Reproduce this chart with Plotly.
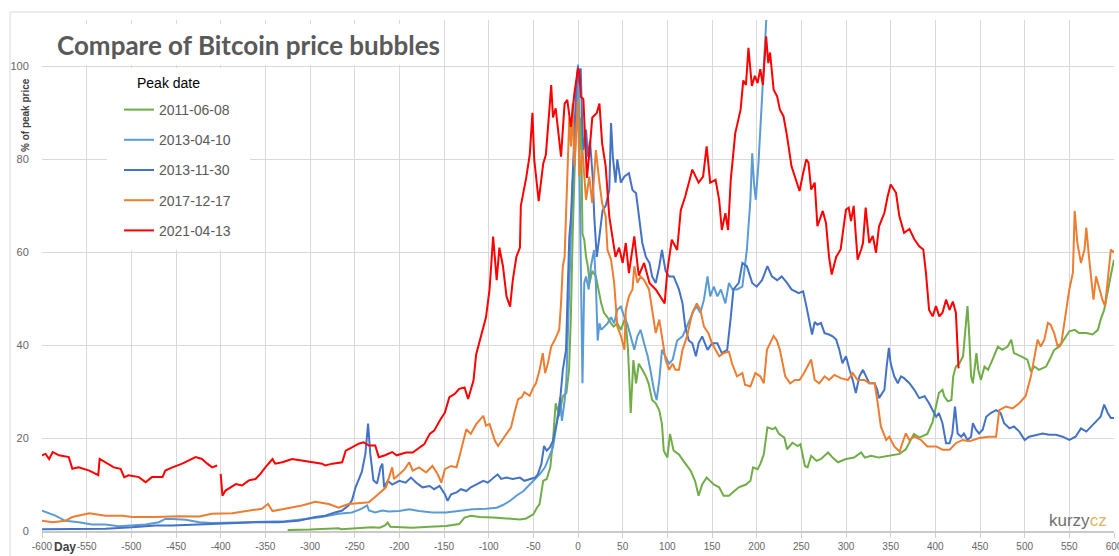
import plotly.graph_objects as go

# ---------------- data ----------------
series_names = ["2011-06-08", "2013-04-10", "2013-11-30", "2017-12-17", "2021-04-13"]
series_colors = ["#70ad47", "#5b9bd5", "#4472c4", "#ed7d31", "#ff0000"]

green_day = [-325, -300, -268, -265, -231, -222, -216, -213, -210, -200, -185, -166, -148, -133, -127, -120,
             -110, -95, -80, -65, -58, -50, -46, -43, -39, -35, -31, -28, -25, -21, -17, -13, -10, -8, -6,
             -4, -2, 0, 1.5, 2.6, 3.3, 5, 7, 9, 11, 13, 16, 20, 24, 26, 29, 33, 37, 40, 44, 48, 53, 56, 59,
             62, 65, 68, 72, 76, 79, 83, 87, 91, 94, 96, 100, 103, 107, 113, 118, 126, 131, 135, 139, 144,
             152, 158, 163, 169, 175, 180, 188, 193, 196, 201, 204, 208, 212, 218, 221, 225, 231, 234, 240,
             246, 249, 252, 254, 257, 261, 267, 272, 280, 285, 291, 300, 309, 317, 321, 328, 337, 349, 360,
             367, 372, 376, 382, 391, 397, 401, 404, 408, 410, 414, 418, 420, 423, 427, 431, 433, 436, 438,
             440, 442, 446, 448, 451, 455, 459, 464, 470, 475, 481, 485, 488, 496, 503, 507, 511, 516, 524,
             528, 533, 539, 544, 550, 556, 561, 569, 576, 582, 585, 589, 593, 597, 600]
green_val = [0.2, 0.3, 0.6, 0.4, 0.8, 0.7, 1.2, 1.8, 0.9, 0.8, 0.7, 0.9, 1.1, 1.5, 2.9, 3.3,
             3.0, 2.9, 2.7, 2.5, 2.7, 3.6, 5.0, 5.8, 10.8, 11.2, 13.7, 19.5, 27.5, 24.7, 29, 29.7, 34.7, 46, 63.4,
             78.5, 89, 95, 90.7, 82, 89, 64, 62.7, 59, 57, 53.4, 56, 54.8, 50.5, 49, 47, 46, 44.7, 44, 44.7, 43.3, 46, 39, 25.4,
             36.8, 31.8, 36, 34.7, 33.3, 31.8, 28.2, 27.5, 26, 23, 17.3, 15.8, 20.9, 17.3, 16.5, 15.1, 13, 10.8, 7.6, 10, 11.5,
             10, 9.4, 7.6, 7.6, 8.6, 9.4, 10, 10.8, 13.7, 13.3, 14.4, 16.5, 22.3, 21.9, 22.3, 20.9, 20.1, 17.6, 19,
             18.3, 18.7, 15.8, 14, 13.7, 16.2, 15.1, 15.5, 16.9, 15.8, 14.8, 15.5, 15.8, 16.9, 15.8, 16.2, 15.8, 16.2, 16.6,
             17.6, 19.4, 20.9, 20.1, 20.9, 23.5, 26.8, 29.7, 30.4, 29, 27.9, 28.2, 33.3, 35.4, 36.1, 37.6, 41.9, 48.4, 41.9,
             33.3, 31.8, 38.3, 34.7, 32.5, 35.4, 34.7, 36.9, 39.7, 39, 39.7, 41.2, 38.3, 37.6, 36.9, 34.3, 35.4, 34.7, 35.4,
             36.9, 39, 39.7, 41.2, 43, 43.3, 42.6, 42.6, 42.3, 43.3, 45.5, 47.6, 52, 55.6, 58.4]

lblue_day = [-600, -585, -574, -559, -544, -529, -514, -499, -484, -469, -462, -454, -439, -424, -410, -395,
             -372, -350, -328, -305, -287, -268, -253, -242, -236, -234, -227, -219, -212, -200, -189, -178,
             -163, -148, -133, -118, -103, -91, -84, -76, -69, -61, -54, -48, -43, -37, -33, -28, -24, -20,
             -18, -15, -13, -11.5, -9.7, -7.8, -6, -4, -2, 0, 1.5, 3.3, 5, 7, 9, 12, 14.5, 18, 20, 22, 24,
             26, 29, 33, 37, 40.5, 44, 48, 52, 55, 59, 63, 66.5, 70, 74, 78, 81, 85, 88, 91, 94, 98, 102,
             106, 111, 117, 122, 126, 130, 133, 137, 141, 145, 148, 152, 156, 160, 165, 169, 173, 178, 184,
             189, 193, 195, 197, 199, 202, 206, 208, 211, 213]
lblue_val = [4.4, 3.3, 2.2, 1.9, 1.4, 1.4, 1.0, 1.2, 1.4, 1.9, 2.6, 2.6, 2.4, 1.9, 1.7, 1.8,
             1.9, 1.9, 2.1, 2.6, 3.0, 3.7, 4.0, 4.8, 5.5, 4.4, 4.0, 4.4, 4.2, 4.3, 4.7, 4.3,
             4.0, 4.0, 4.3, 4.7, 4.8, 5.0, 5.6, 6.5, 7.6, 8.6, 10, 11.2, 12.2, 13.7, 15.8, 18, 23, 28.8,
             23.7, 28, 32.4, 42.6, 53.4, 67.7, 75, 82, 89, 100.4, 82, 60.5, 31.8, 53.4, 54.8, 52, 57, 60.5, 53.4, 41, 44.7,
             43.3, 44, 44.7, 46, 44.7, 47.6, 48.3, 46, 44.7, 41.9, 39, 41.9, 43.3, 40.4, 37.6, 34.7, 30.4, 28.2, 32.5, 39, 37.6, 36,
             36.9, 41, 41.9, 44, 46, 47.6, 48.3, 47, 49.8, 54.8, 50.5, 52.6, 50.5, 52, 49, 53.4, 52, 52, 52.6,
             60.5, 71.3, 81.3, 74.9, 71.3, 79, 92.8, 101.4, 110, 118]

blue_day = [-600, -566, -529, -499, -473, -454, -428, -402, -380, -357, -335, -313, -294, -283, -272, -264,
            -257, -253, -249, -245.5, -242, -238, -235, -232.5, -229, -225, -221, -219, -217, -213, -208, -200,
            -193, -187, -181, -174, -166, -161, -155, -149, -146, -142, -136, -131, -125, -120, -114, -106,
            -101, -95, -90, -86, -80, -73, -65, -60, -54, -48, -45, -41, -38, -35, -31.5, -28, -24, -21, -17,
            -13.4, -11.5, -9.7, -7.8, -6, -4, -2.2, 0, 1.5, 3, 4.5, 6, 9, 11, 13.4, 16.4, 18.2, 21, 24, 27.5,
            31, 35, 37, 39, 42, 44, 48, 52, 57, 61, 65, 68, 72, 76, 80, 83, 87, 91, 94, 98, 102, 107, 113,
            117, 120, 124, 128, 132, 135, 139, 145, 150, 156, 161, 167, 171, 174, 180, 184, 189, 195, 200,
            206, 212, 217, 223, 228, 234, 239, 247, 252, 255, 259, 262, 265, 268, 272, 276, 281, 285, 289,
            292.5, 296, 300, 304, 307.5, 311, 315, 319, 322, 326, 332, 335, 337, 343, 345.5, 348, 350, 354,
            358, 361.5, 365, 371, 376.5, 382, 388, 393, 397, 401, 404, 408, 412, 416, 419, 422, 425, 429,
            432, 436, 440, 442, 445.5, 449, 453, 457, 462, 468, 473, 477, 483, 488, 494, 500, 505, 513, 520,
            527.5, 535, 542.5, 550, 557, 563, 569, 574, 580, 585, 589, 593, 596.5, 600]
blue_val = [0.4, 0.4, 0.5, 0.8, 1.2, 1.2, 1.4, 1.5, 1.7, 1.9, 1.9, 2.2, 3.0, 3.3, 4.0, 4.4,
            5.5, 6.6, 9.4, 10.9, 12.7, 16.6, 23.1, 16.6, 10.9, 10.2, 13.7, 14.5, 9.4, 10.8, 10, 10.8,
            10.4, 11.5, 10.4, 9.4, 9.7, 9.0, 9.7, 7.9, 6.5, 7.9, 8.3, 9.0, 8.6, 9.4, 10, 10.8,
            10.4, 11.5, 12.2, 11.2, 11.5, 11.2, 11.5, 10.8, 11.2, 11.5, 12.2, 14.4, 18.3, 17.3, 18, 19.4, 23, 26, 34.7,
            39, 52, 63.4, 67.7, 75, 85.6, 95, 100, 96.4, 99.6, 89, 82, 86.4, 80.6, 84, 76.3, 67.7, 59, 63.4, 69,
            70, 73.4, 87.8, 80.6, 75, 80, 75, 76.3, 77, 73.4, 72.7, 67.7, 62, 59, 57.7, 54.8, 53.4, 57, 60.5, 56, 54.8, 54.8, 52,
            49, 44, 41, 40.4, 37.6, 40.4, 41.9, 39, 40.4, 40.4, 38.3, 39, 46, 52, 53.4, 57.7, 57, 53.4, 52.6,
            54, 57, 54.8, 54, 54.8, 53.4, 52, 51.2, 51.6, 49, 44.8, 42.3, 45, 44.4, 44.8, 42.6, 42.3, 41.9, 41.2,
            39, 36.1, 37.6, 34.7, 32.5, 29.7, 33.3, 34.7, 33.3, 31.8, 31.8, 30.4, 28.6, 30.4, 35.4, 39.4, 36.1, 33.3,
            31.8, 33.3, 32.9, 31.8, 30.4, 28.6, 29, 27.5, 26, 24.6, 25.4, 23.2, 18.9, 18.9, 21, 26.8, 21, 20.3,
            21, 19.6, 20.3, 23.2, 21.8, 21, 21.8, 24.6, 25.4, 26, 25.4, 23.2, 22.1, 22.5, 21.4, 19.6, 20.3, 20.7, 21,
            20.7, 20.7, 20.3, 19.6, 20.3, 22.1, 21.4, 22.5, 23.6, 24.6, 27.2, 25.4, 24.3, 24.3]

orange_day = [-600, -588, -574, -566, -547, -529, -510, -499, -473, -447, -424, -410, -387, -369, -354, -347,
              -342, -328, -309, -294, -279, -268, -257, -246, -234, -223, -215, -208, -206, -200, -194, -189,
              -185, -178, -170, -163, -157, -153, -149, -142, -136, -133, -125, -120, -114, -106, -103, -99,
              -93, -89.5, -84, -78, -75, -71, -67, -63, -60, -54, -50, -47, -43, -39.4, -36.8, -33.8, -30,
              -26.4, -21, -19, -17, -15, -13.4, -11.5, -9.7, -7.8, -6, -4, 0, 1.5, 5, 9, 12.6, 16, 20, 24, 27,
              31, 33, 37, 40.5, 44, 48, 52, 53.5, 57, 61, 63, 66.5, 70, 74, 79.5, 83, 87, 91, 94, 98, 102, 106,
              109, 113, 117, 122, 128, 133, 137, 141, 146, 150, 154, 158, 163, 169, 172.5, 178, 184, 187, 193,
              198.5, 204, 208, 211.5, 219, 222.6, 226, 232, 237.5, 243, 248, 253, 261, 265, 270, 276, 281, 287,
              294, 302, 307.5, 313, 320.5, 326, 332, 335, 339, 345, 348.5, 354, 360, 363, 367, 371, 376.5, 384,
              391, 401, 408, 416, 423, 430.5, 438, 449, 460, 468, 471.6, 479, 486.5, 494, 501, 507, 511, 514.5,
              518, 522, 526, 529, 533, 537, 541, 546, 550, 554, 556, 559, 563, 567, 569, 572, 577, 580, 583.5,
              587, 590, 593, 596.5, 600]
orange_val = [2.2, 1.9, 2.2, 3.0, 3.8, 3.3, 3.3, 3.0, 3.0, 3.2, 3.1, 3.7, 3.8, 4.3, 4.8, 5.8,
              4.3, 4.8, 5.5, 6.3, 5.8, 5.0, 5.8, 6.0, 6.2, 8.0, 9.4, 13.7, 11.2, 12.2, 13.3, 14.8,
              13.0, 13.7, 12.6, 14, 12.2, 10.4, 13.3, 14, 13.7, 15.8, 21.9, 20.9, 23, 24.8, 22.7, 23,
              19.4, 18.3, 19.8, 21.6, 22.3, 25.5, 28.4, 28.8, 29.9, 29.1, 30.9, 31.8, 34.7, 38.3, 34, 36, 39.7,
              41, 43.3, 49, 57, 59, 67.7, 78.5, 89, 82.8, 92, 78.5, 92.8, 76.3, 82, 71.3, 76.3, 70.6, 82, 75, 70.6,
              67.7, 60.5, 58.4, 53.4, 44, 42, 39, 47.6, 50.5, 52, 57, 53.4, 54.8, 54, 52, 47.6, 42.6, 45.5, 41.9, 36.9, 34.7, 36,
              34.7, 34.7, 39, 41.9, 47, 49, 47.6, 44, 42.6, 40.4, 39, 37.6, 38.3, 38.6, 36, 33.3, 34, 31.5, 31.1,
              34, 33.3, 31.8, 39, 42, 41, 39, 33.3, 31.8, 32.5, 32.5, 34, 36.9, 32.5, 31.8, 33.3, 32.5, 33.6,
              32.9, 32.5, 34, 32.5, 32.5, 31.8, 31.8, 28.2, 22.5, 19.6, 20.3, 18.2, 17.1, 18.9, 21, 19.6, 20.3, 19.6,
              18.2, 18.2, 17.5, 17.5, 18.9, 19.6, 19.3, 20, 20.3, 20.3, 26, 26.8, 26.4, 27.5, 29, 33.3, 37.6, 41.2,
              39.7, 41.2, 44.8, 44.4, 42.6, 39.7, 40.4, 47, 52, 55.6, 68.9, 62, 57.7, 60.6, 65.3, 59, 49.8, 54.8, 52,
              49.8, 48.4, 53.4, 60.6, 59.9]

red_day = [-600, -596, -592, -588, -581, -570, -566, -559, -547, -540, -537, -535.5, -529, -519.5, -512, -508,
           -503, -491.5, -484, -477, -465, -462, -454, -443, -428, -421, -415, -409.5, -404, -402, -400, -398,
           -394.6, -389, -383, -376, -368.5, -361, -355.5, -350, -342, -339, -331, -320, -309, -298, -286.5,
           -283, -275, -264, -260, -253, -245.5, -240, -234, -227, -223, -216, -208, -203, -200, -192.5, -185,
           -177.5, -172, -166, -161, -155, -149, -144, -138, -133, -127, -123, -119.5, -117, -114, -110, -103,
           -99, -95, -91, -88, -84, -80, -76, -73, -69, -65, -64, -58, -54, -51, -49, -44, -39, -36, -32, -30,
           -28, -25, -19, -15, -12, -8, -4, 0, 1.5, 3, 6, 10, 13, 16, 21, 24, 27, 31, 35, 39, 42, 46, 50, 53.5,
           57, 63, 68, 74, 80, 87, 92.5, 97, 100, 105, 111, 115, 120, 128, 135, 140, 144, 148, 154, 158, 161,
           165, 168, 171, 176, 182, 185, 188, 190.8, 194.6, 198, 201, 204, 207, 210.6, 213, 215, 219, 223, 226,
           230, 234, 239, 245, 248, 252, 255.5, 258, 261, 265, 268, 274, 277.6, 281, 284, 289, 294, 297, 300,
           303, 305.6, 308.6, 313, 317, 319, 322, 326, 330, 333.6, 337, 343, 346.6, 350, 356, 359.7, 365, 371,
           376.5, 382, 386.5, 389.5, 393, 397, 400.7, 404.4, 408, 412, 415.9, 419.6, 423, 426]
red_val = [16.3, 16.6, 15.5, 17, 16.3, 15.9, 13.4, 13.7, 13, 12.3, 12, 15.5, 14.8, 13.7, 13.4, 11.6,
           12, 11.6, 10.5, 11.6, 11.6, 13, 13.7, 14.5, 15.9, 15.5, 14.5, 13.7, 14.1, None, 12.3, 7.6,
           8.7, 9.4, 10.1, 9.8, 10.9, 11.2, 12.3, 13.7, 15.5, 14.5, 14.8, 15.5, 15.2, 14.8, 14.5,
           14.1, 14.5, 14.8, 17.3, 18, 18.8, 19.1, 18.4, 18.4, 15.9, 16.3, 17, 16.3, 16.5, 16.9, 16.9,
           18, 18.7, 20.9, 21.6, 23.7, 25.5, 28.8, 29.5, 30.6, 30.9, 28.4, 30.9, 32.4, 38, 41, 46,
           52, 63.4, 54, 61, 57, 50.5, 48.3, 54, 59, 61, 70, 76, 81, 90, 80, 71, 79, 81, 90.7, 96,
           89, 91, 80.6, 92, 92.8, 87, 94.3, 99.6, 99, 93.5, 93, 76, 82, 89, 90, 92, 83.5, 78.5, 67.7, 62.7, 59, 61, 57.7, 62,
           55.5, 63.4, 55, 57.7, 53.4, 52, 50.5, 49, 56, 62.7, 60.5, 69, 72, 77.8, 75, 76.3, 82.8, 75, 75.6, 71.3, 64.8,
           68.4, 64.8, 75.6, 85.6, 90.7, 97, 96, 104, 95.8, 98, 96.4, 99.4, 96, 106.5, 100.7, 103, 95, 93.5, 90.7,
           89.3, 85, 78.5, 75, 73.2, 77, 80, 79.3, 73.5, 75, 65.6, 68.9, 66.3, 59, 55.2, 59, 60.6, 65, 69.2,
           69.6, 66.7, 70, 58.4, 60.6, 62, 69.6, 62, 63.5, 59.9, 65.6, 68.5, 72, 74.6, 72.8, 67.8, 64.2, 65,
           62.8, 61.3, 60.6, 55.6, 47.6, 46.2, 48.4, 46.2, 47, 49.8, 47.6, 49.4, 47, 35]

x_ticks = list(range(-600, 601, 50))
y_ticks = [0, 20, 40, 60, 80, 100]

title_text = "Compare of Bitcoin price bubbles"
y_title = "% of peak price"
x_title = "Day"
legend_title = "Peak date"

# ---------------- figure ----------------
all_days = [green_day, lblue_day, blue_day, orange_day, red_day]
all_vals = [green_val, lblue_val, blue_val, orange_val, red_val]

fig = go.Figure()
for name, col, d, v in zip(series_names, series_colors, all_days, all_vals):
    fig.add_trace(go.Scatter(
        x=d, y=v, mode="lines", name=name, legendgroup=name,
        line=dict(color=col, width=2), connectgaps=False,
    ))

W, H = 1119, 556
ml, mr, mt, mb = 42, 5, 20, 25
pw, ph = W - ml - mr, H - mt - mb


def px2paper(px, py):
    return (px - ml) / pw, (H - mb - py) / ph


def px2data(px, py):
    return (px - ml) / pw * 1200 - 600, (H - mb - py) / ph * 110


fig.update_layout(
    width=W, height=H,
    margin=dict(l=ml, r=mr, t=mt, b=mb, pad=0, autoexpand=False),
    paper_bgcolor="white", plot_bgcolor="white",
    font=dict(family="Liberation Sans, Arial, sans-serif", color="#595959"),
    showlegend=True,
    legend=dict(
        x=px2paper(119, 0)[0], xanchor="left",
        y=px2paper(0, 94)[1], yanchor="top",
        bgcolor="white", borderwidth=0,
        font=dict(size=14, color="#595959"),
        traceorder="grouped", tracegroupgap=9,
        itemwidth=30,
    ),
    xaxis=dict(
        range=[-600, 600], tickvals=x_ticks, ticktext=[str(t) for t in x_ticks],
        showgrid=True, gridcolor="#d9d9d9", gridwidth=1,
        zeroline=False, showline=True, linecolor="#c9c9c9", linewidth=2,
        ticks="outside", ticklen=5, tickcolor="#d0d0d0", tickwidth=1,
        tickfont=dict(size=10, color="#666666"),
        ticklabeloverflow="allow", automargin=False,
    ),
    yaxis=dict(
        range=[0, 110], tickvals=y_ticks,
        showgrid=True, gridcolor="#d9d9d9", gridwidth=1,
        zeroline=False, showline=False,
        ticks="outside", ticklen=10, tickcolor="rgba(0,0,0,0)",
        tickfont=dict(size=11, color="#666666"),
        automargin=False,
    ),
)

# outer chart border
fig.add_shape(type="rect", xref="paper", yref="paper",
              x0=px2paper(10, 0)[0], x1=px2paper(1130, 0)[0],
              y0=px2paper(0, 570)[1], y1=px2paper(0, 12)[1],
              line=dict(color="#d9d9d9", width=1), fillcolor="rgba(0,0,0,0)", layer="below")

# white background of the legend block (hides gridlines, not the 100 line)
lx0, ly0 = px2data(107, 250)
lx1, ly1 = px2data(250, 68)
fig.add_shape(type="rect", xref="x", yref="y", x0=lx0, x1=lx1, y0=ly0, y1=ly1,
              line=dict(width=0), fillcolor="white", layer="between")

# white background of the title block
tx0, ty0 = px2data(46, 65)
tx1, ty1 = px2data(440, 24)
fig.add_shape(type="rect", xref="x", yref="y", x0=tx0, x1=tx1, y0=ty0, y1=ty1,
              line=dict(width=0), fillcolor="white", layer="between")

tx, ty = px2paper(55, 45)
fig.add_annotation(text=f"<b>{title_text}</b>", xref="paper", yref="paper", x=tx, y=ty,
                   xanchor="left", yanchor="middle", showarrow=False,
                   font=dict(family="Lato, Liberation Sans, sans-serif", size=26, color="#595959"))

px_, py_ = px2paper(135, 83)
fig.add_annotation(text=legend_title, xref="paper", yref="paper", x=px_, y=py_,
                   xanchor="left", yanchor="middle", showarrow=False,
                   font=dict(size=14, color="#000000"))

ax_, ay_ = px2paper(25, 115)
fig.add_annotation(text=f"<b>{y_title}</b>", xref="paper", yref="paper", x=ax_, y=ay_,
                   xanchor="center", yanchor="middle", showarrow=False, textangle=-90,
                   font=dict(size=10, color="#404040"))

dx, dy = px2paper(65, 547)
fig.add_annotation(text=f"<b>{x_title}</b>", xref="paper", yref="paper", x=dx, y=dy,
                   xanchor="center", yanchor="middle", showarrow=False,
                   font=dict(size=12, color="#404040"))

kx, ky = px2paper(1109, 520)
fig.add_annotation(text="kurzy<span style='color:#e2b463'>cz</span>", xref="paper", yref="paper",
                   x=kx, y=ky, xanchor="right", yanchor="middle", showarrow=False,
                   font=dict(family="Liberation Sans Narrow, Arial Narrow, Liberation Sans, sans-serif",
                             size=17, color="#707070"))

fig.write_html("out.html", config={"displayModeBar": False},
               post_script="document.body.style.margin='0';document.body.style.overflow='hidden';")
